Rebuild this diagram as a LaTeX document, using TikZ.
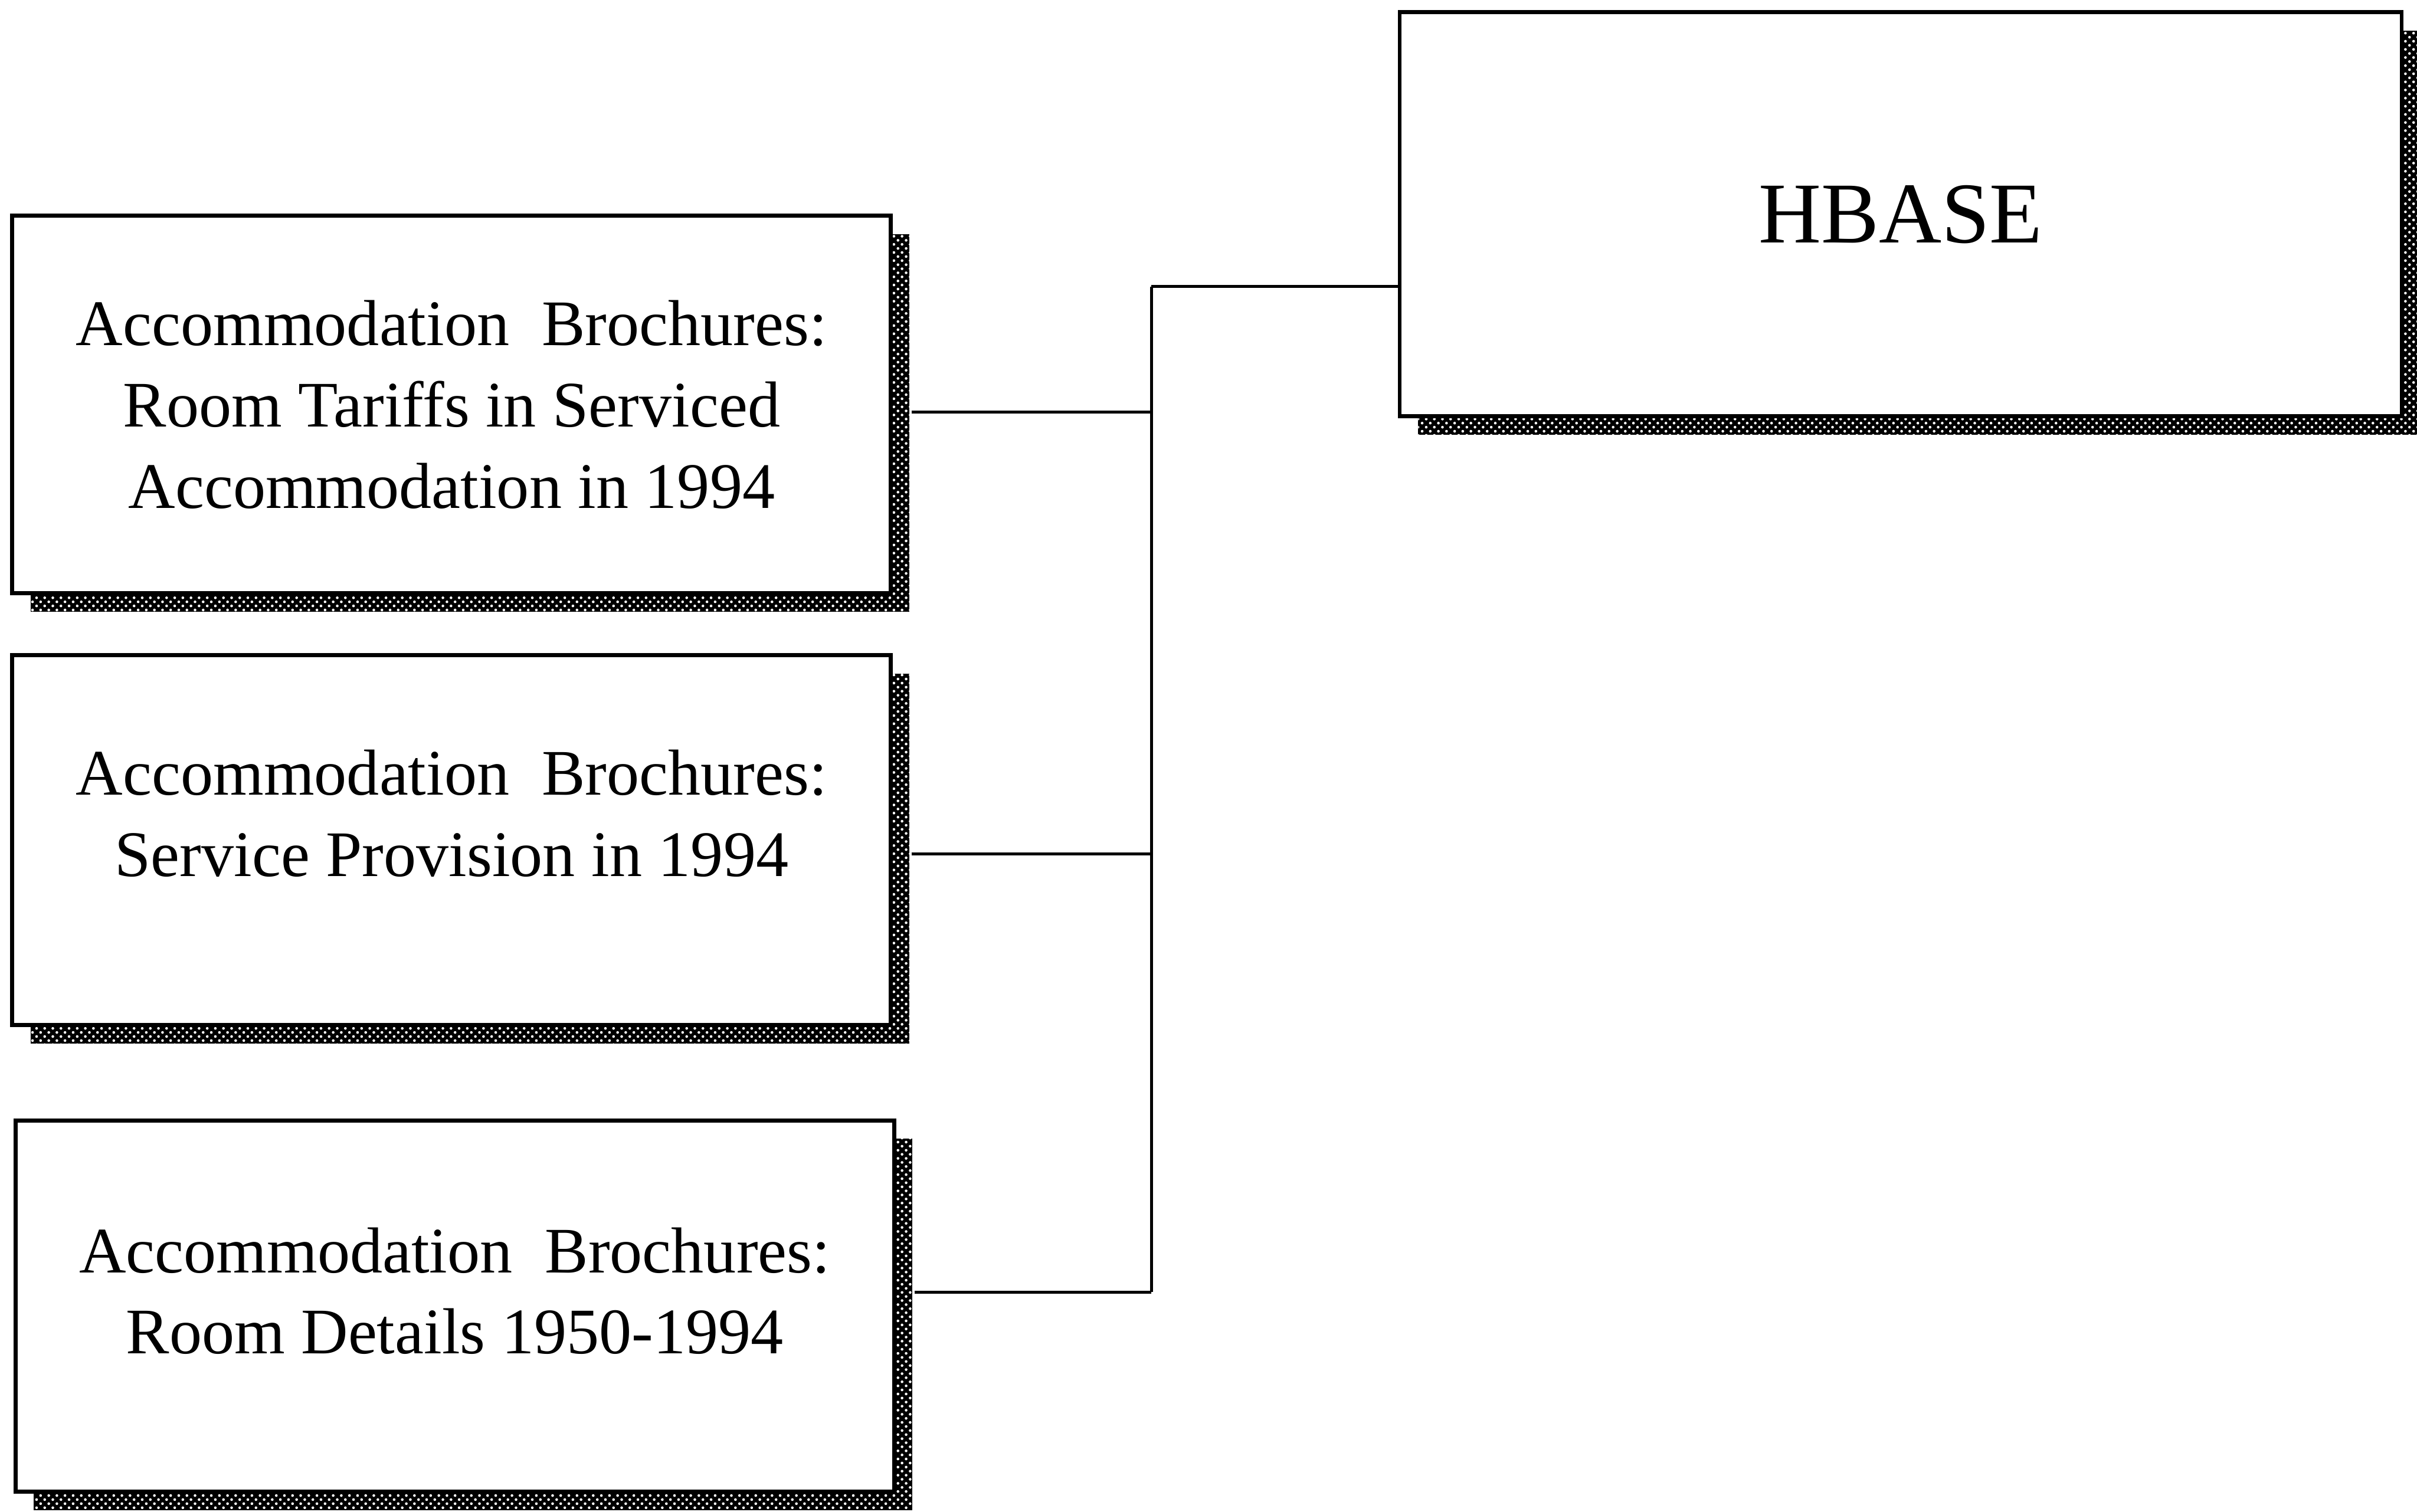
\documentclass[tikz,border=0pt]{standalone}
\usepackage{fontspec}
\setmainfont{Liberation Serif}
\usetikzlibrary{shadows,patterns}
\begin{document}
\begin{tikzpicture}[
  every node/.style={font=\fontsize{24}{30}\selectfont},
  srcbox/.style={draw,line width=1.5pt,fill=white,align=center,minimum width=11.4cm,
    drop shadow={shadow xshift=0.24cm,shadow yshift=-0.24cm,opacity=1,fill=black,
      postaction={pattern=crosshatch dots,pattern color=white}}},
  link/.style={line width=1.1pt}]
\useasboundingbox (0,0) rectangle (31.36,-19.62);
% source boxes
\node[srcbox,minimum height=4.9cm] (b1) at (5.86,-5.25) {Accommodation~~Brochures:\\Room Tariffs in Serviced\\Accommodation in 1994};
\node[srcbox,minimum height=4.8cm,text depth=0.7cm] (b2) at (5.86,-10.9) {Accommodation~~Brochures:\\Service Provision in 1994};
\node[srcbox,minimum height=4.82cm,text depth=0.4cm] (b3) at (5.9,-16.95) {Accommodation~~Brochures:\\Room Details 1950-1994};
% target
\node[srcbox,minimum width=13cm,minimum height=5.24cm,font=\fontsize{32}{38}\selectfont] (hb) at (24.66,-2.78) {HBASE};
% bus
\coordinate (bus) at (14.94,-3.72);
\draw[link] (bus) -- (bus -| hb.west);
\draw[link] (bus) -- ([yshift=0.18cm]bus |- b3.east);
\draw[link] ([xshift=0.24cm,yshift=-0.1cm]b1.east) -- ([yshift=-0.1cm]b1.east -| bus);
\draw[link] ([xshift=0.24cm,yshift=-0.18cm]b2.east) -- ([yshift=-0.18cm]b2.east -| bus);
\draw[link] ([xshift=0.24cm,yshift=0.18cm]b3.east) -- ([yshift=0.18cm]b3.east -| bus);
\end{tikzpicture}
\end{document}
